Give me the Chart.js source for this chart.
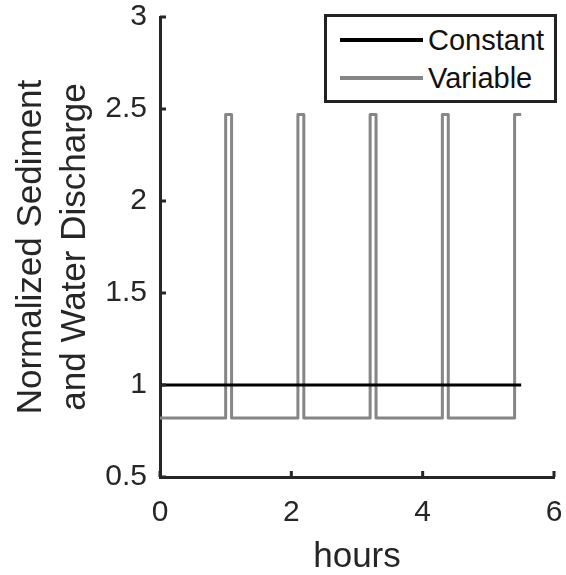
<!DOCTYPE html>
<html>
<head>
<meta charset="utf-8">
<script src="https://cdn.jsdelivr.net/npm/chart.js@4.4.1/dist/chart.umd.min.js"></script>
<style>
  body { margin: 0; background: #fff; }
  #wrap { position: relative; width: 566px; height: 575px; }
  #legend {
    position: absolute; left: 324px; top: 14px; width: 233px; height: 89px;
    box-sizing: border-box; border: 3px solid #222; background: #fff;
    font-family: "Liberation Sans", Arial, sans-serif; font-size: 29px; color: #111;
  }
  #legend .row { position: absolute; left: 0; height: 34px; line-height: 34px; white-space: nowrap; }
  #legend .swatch { position: absolute; left: 13px; top: 15px; width: 83px; height: 4px; }
  #legend .txt { position: absolute; left: 101px; top: 0; }
</style>
</head>
<body>
<div id="wrap">
  <canvas id="myChart"></canvas>
  <div id="legend"></div>
</div>
<script>
// values
var constX = [0, 5.5];
var constY = [1, 1];
var varX = [0, 1.0, 1.0, 1.09, 1.09, 2.1, 2.1, 2.19, 2.19, 3.2, 3.2, 3.29, 3.29, 4.3, 4.3, 4.39, 4.39, 5.4, 5.4, 5.5];
var varY = [0.82, 0.82, 2.47, 2.47, 0.82, 0.82, 2.47, 2.47, 0.82, 0.82, 2.47, 2.47, 0.82, 0.82, 2.47, 2.47, 0.82, 0.82, 2.47, 2.47];
var seriesNames = ['Constant', 'Variable'];
var xTicks = [0, 2, 4, 6];
var yTicks = [0.5, 1, 1.5, 2, 2.5, 3];

function toPoints(xs, ys) {
  var pts = [];
  for (var i = 0; i < xs.length; i++) pts.push({x: xs[i], y: ys[i]});
  return pts;
}

var FONT = '"Liberation Sans", Arial, sans-serif';
var AXIS = '#262626';

// MATLAB style ticks pointing into the plot
var inwardTicks = {
  id: 'inwardTicks',
  afterDraw: function (chart) {
    var c = chart.ctx, a = chart.chartArea;
    var xs = chart.scales.x, ys = chart.scales.y;
    c.save();
    c.strokeStyle = AXIS;
    c.lineWidth = 3;
    c.beginPath();
    xTicks.forEach(function (v) {
      var px = xs.getPixelForValue(v);
      c.moveTo(px, a.bottom); c.lineTo(px, a.bottom - 6);
    });
    yTicks.forEach(function (v) {
      var py = ys.getPixelForValue(v);
      c.moveTo(a.left, py); c.lineTo(a.left + 6, py);
    });
    c.stroke();
    c.restore();
  }
};

var ctx = document.getElementById('myChart');
var chart = new Chart(ctx, {
  type: 'scatter',
  data: {
    datasets: [{
      label: seriesNames[0],
      data: toPoints(constX, constY),
      showLine: true,
      borderColor: '#000000',
      borderWidth: 3,
      pointRadius: 0
    }, {
      label: seriesNames[1],
      data: toPoints(varX, varY),
      showLine: true,
      borderColor: '#868686',
      borderWidth: 3,
      borderJoinStyle: 'round',
      pointRadius: 0
    }]
  },
  options: {
    responsive: true,
    maintainAspectRatio: false,
    animation: false,
    layout: { padding: 0 },
    plugins: { legend: { display: false }, tooltip: { enabled: false } },
    scales: {
      x: {
        type: 'linear', min: 0, max: 6,
        afterBuildTicks: function (s) { s.ticks = xTicks.map(function (v) { return {value: v}; }); },
        afterFit: function (s) { s.height = 98; s.paddingLeft = 0; s.paddingRight = 12; },
        grid: { display: false, drawTicks: false },
        border: { display: true, color: AXIS, width: 3 },
        ticks: { color: '#262626', padding: 18, font: { family: FONT, size: 30 },
                 callback: function (v) { return String(v); } },
        title: { display: true, text: 'hours', color: '#262626', padding: { top: 0, bottom: 0 }, font: { family: FONT, size: 35, lineHeight: 1.0 } }
      },
      y: {
        type: 'linear', min: 0.5, max: 3,
        afterBuildTicks: function (s) { s.ticks = yTicks.map(function (v) { return {value: v}; }); },
        afterFit: function (s) { s.width = 160; s.paddingTop = 17; s.paddingBottom = 0; },
        grid: { display: false, drawTicks: false },
        border: { display: true, color: AXIS, width: 3 },
        ticks: { color: '#262626', padding: 13, font: { family: FONT, size: 30 },
                 callback: function (v) { return String(v); } },
        title: {
          display: true, text: ['Normalized Sediment', 'and Water Discharge'], color: '#262626',
          padding: { top: 9, bottom: 0 }, font: { family: FONT, size: 35, lineHeight: 1.26 }
        }
      }
    }
  },
  plugins: [inwardTicks]
});

// legend box built from the datasets
var legend = document.getElementById('legend');
chart.data.datasets.forEach(function (ds, i) {
  var row = document.createElement('div');
  row.className = 'row';
  row.style.top = (6 + i * 38) + 'px';
  row.style.width = '100%';
  row.innerHTML = '<span class="swatch" style="background:' + ds.borderColor + '"></span><span class="txt">' + ds.label + '</span>';
  legend.appendChild(row);
});
</script>
</body>
</html>
